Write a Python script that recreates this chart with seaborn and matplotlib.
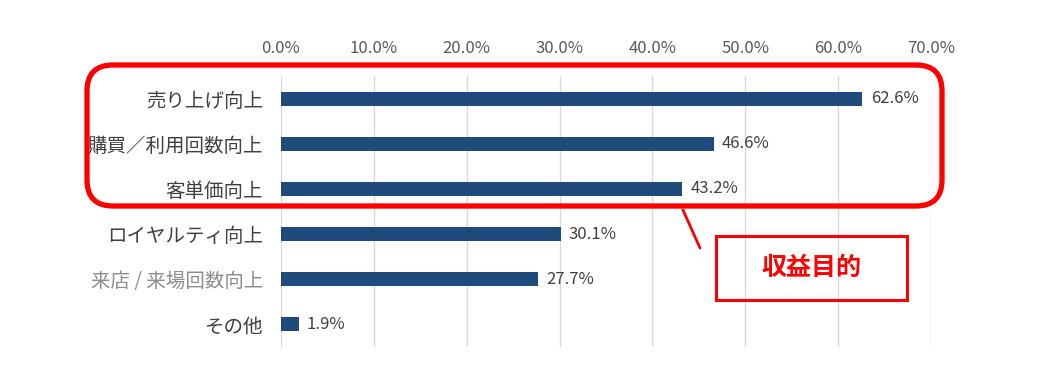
import matplotlib
matplotlib.use("Agg")
import matplotlib.pyplot as plt
import seaborn as sns
import pandas as pd
from matplotlib.patches import FancyBboxPatch, Rectangle
from matplotlib.lines import Line2D
from matplotlib.transforms import IdentityTransform
from matplotlib.ticker import FuncFormatter, MultipleLocator

categories = ["売り上げ向上", "購買／利用回数向上", "客単価向上", "ロイヤルティ向上", "来店 / 来場回数向上", "その他"]
values = [62.6, 46.6, 43.2, 30.1, 27.7, 1.9]
label_colors = ["#404040", "#404040", "#404040", "#404040", "#8C8C8C", "#404040"]
callout_text = "収益目的"

sns.set_theme(style="white")
plt.rcParams["font.family"] = ["Noto Sans CJK JP", "DejaVu Sans"]

W, H = 1040, 374
fig = plt.figure(figsize=(W / 100, H / 100), dpi=100)
ax = fig.add_axes([281 / W, 1 - 347 / H, (931 - 281) / W, (347 - 76) / H])

df = pd.DataFrame({"cat": categories, "val": values})
sns.barplot(data=df, x="val", y="cat", orient="h", color="#1F4A7C", width=0.31, ax=ax,
            saturation=1, linewidth=0)

ax.set_xlim(0, 70)
ax.set_ylim(5.5, -0.5)
ax.xaxis.set_major_locator(MultipleLocator(10))
ax.xaxis.set_major_formatter(FuncFormatter(lambda v, p: f"{v:.1f}%"))
ax.xaxis.tick_top()
ax.tick_params(axis="x", length=0, pad=14, labelsize=12, labelcolor="#595959")
ax.tick_params(axis="y", length=0, pad=13, labelsize=14)
for lbl, c in zip(ax.get_yticklabels(), label_colors):
    lbl.set_color(c)
ax.set_xlabel("")
ax.set_ylabel("")
ax.grid(axis="x", color="#D9D9D9", linewidth=1)
ax.set_axisbelow(True)
for s in ax.spines.values():
    s.set_visible(False)

for i, v in enumerate(values):
    ax.text(v + 0.9, i, f"{v:.1f}%", va="center", ha="left", fontsize=12, color="#404040")

# Red callout annotations in display pixels (origin bottom-left)
px = IdentityTransform()

def py(y):
    return H - y

rr = FancyBboxPatch((87, py(206)), 942 - 87, 206 - 65,
                    boxstyle="round,pad=0,rounding_size=26",
                    transform=px, fill=False, edgecolor="#FF0000", linewidth=3.8, zorder=10)
fig.patches.append(rr)
fig.lines.append(Line2D([683, 700], [py(210), py(248)], transform=px,
                        color="#FF0000", linewidth=2, zorder=10))
box = Rectangle((716, py(300)), 907 - 716, 300 - 236, transform=px,
                fill=False, edgecolor="#FF0000", linewidth=2.2, zorder=10)
fig.patches.append(box)
fig.text(811 / W, 1 - 268 / H, callout_text, ha="center", va="center", fontsize=18,
         fontweight="bold", color="#FF0000")

fig.savefig("out.png", dpi=100)
